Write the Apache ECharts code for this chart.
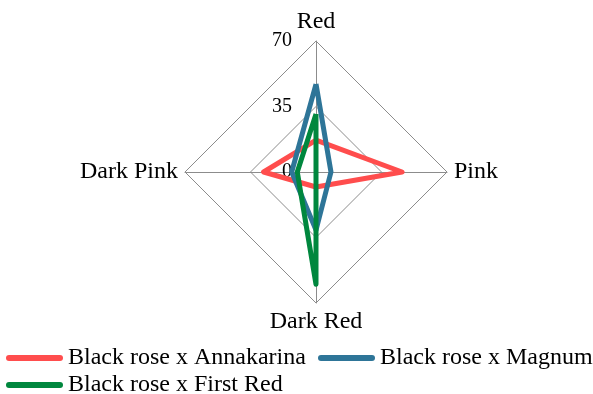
<!DOCTYPE html>
<html>
<head>
<meta charset="utf-8">
<script src="https://cdn.jsdelivr.net/npm/echarts@6/dist/echarts.min.js"></script>
<style>
  html, body { margin: 0; padding: 0; background: #ffffff; }
  #chart { width: 593px; height: 394px; }
</style>
</head>
<body>
<div id="chart"></div>
<script>
// Radar axes, listed counter-clockwise starting from the top
const indicators = ['Red', 'Dark Pink', 'Dark Red', 'Pink'];
const axisMax = 70;

// Series values, in the same order as the indicators above
const seriesNames = ['Black rose x Annakarina', 'Black rose x Magnum', 'Black rose x First Red'];
const annakarina = [17, 28, 8, 46];
const magnum = [47, 13, 31, 8];
const firstRed = [31, 10, 60, 0];
const seriesColors = ['#ff4d4d', '#2e7598', '#00873e'];

const FONT = '"Liberation Serif", "Times New Roman", serif';

const chart = echarts.init(document.getElementById('chart'), null, { renderer: 'canvas' });

const indicatorOpts = indicators.map(function (name, i) {
  return {
    name: name,
    min: 0,
    max: axisMax,
    // value labels are only drawn along the first (top) axis
    axisLabel: i === 0
      ? { show: true, fontSize: 20, color: '#000', fontFamily: FONT, margin: 24 }
      : { show: false }
  };
});

const values = [annakarina, magnum, firstRed];

chart.setOption({
  animation: false,
  backgroundColor: '#ffffff',
  color: seriesColors,
  legend: {
    left: 6,
    top: 346,
    width: 587,
    padding: 0,
    itemWidth: 57,
    itemHeight: 6,
    itemGap: 3,
    icon: 'path://M3,0 L54,0 A3,3 0 0 1 54,6 L3,6 A3,3 0 0 1 3,0 Z',
    data: seriesNames,
    formatter: function (name) {
      return name === seriesNames[0] ? '{wide|' + name + '}' : '{n|' + name + '}';
    },
    textStyle: {
      fontFamily: FONT,
      fontSize: 24,
      color: '#000',
      lineHeight: 20,
      rich: {
        wide: { width: 247, fontFamily: FONT, fontSize: 24, color: '#000', lineHeight: 20 },
        n: { fontFamily: FONT, fontSize: 24, color: '#000', lineHeight: 20 }
      }
    }
  },
  radar: {
    center: [316, 172],
    radius: 131,
    startAngle: 90,
    splitNumber: 2,
    shape: 'polygon',
    indicator: indicatorOpts,
    nameGap: 7,
    axisName: {
      color: '#000',
      fontFamily: FONT,
      fontSize: 24
    },
    axisLine: { lineStyle: { color: '#8c8c8c', width: 1 } },
    splitLine: { lineStyle: { color: '#8c8c8c', width: 1 } },
    splitArea: { show: false },
    axisTick: { show: false }
  },
  series: [{
    type: 'radar',
    symbol: 'none',
    lineStyle: { width: 5 },
    data: values.map(function (v, i) {
      return {
        name: seriesNames[i],
        value: v,
        lineStyle: { color: seriesColors[i], width: 5 },
        itemStyle: { color: seriesColors[i] }
      };
    })
  }]
});
</script>
</body>
</html>
